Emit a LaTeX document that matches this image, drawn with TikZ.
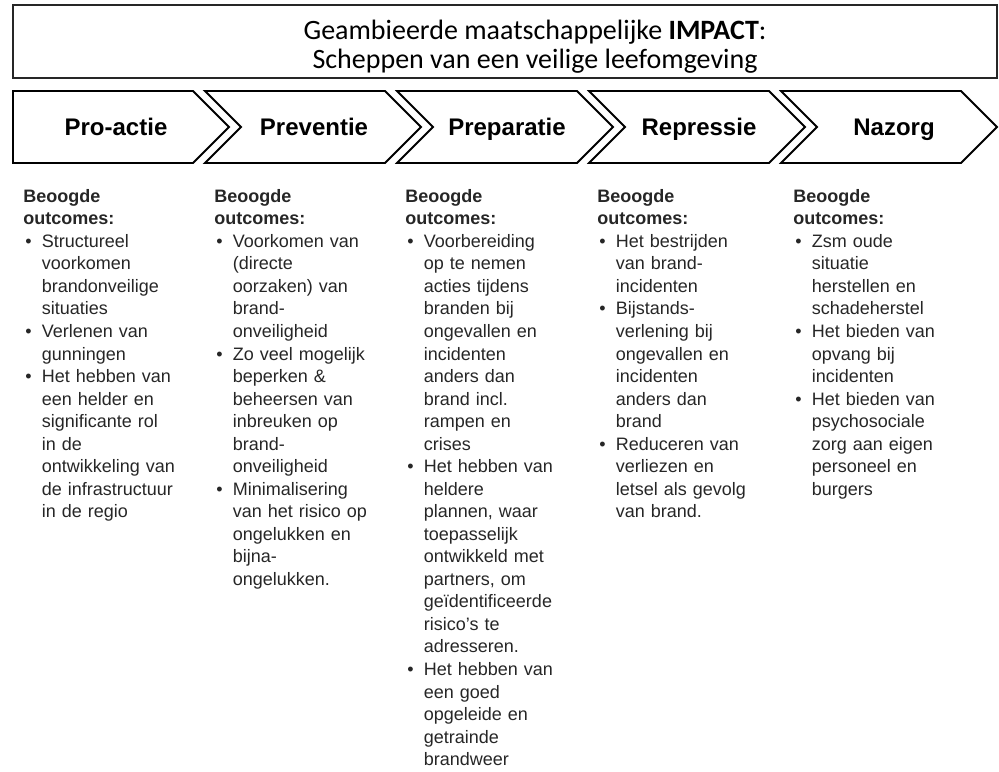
\documentclass[tikz,border=0pt]{standalone}
\usepackage{fontspec}
\setmainfont{Liberation Sans}
\newfontfamily\calibri{Carlito}
\usetikzlibrary{positioning,calc}
\setlength{\parindent}{0pt}
\setlength{\parskip}{0pt}

% one bullet of an outcomes list, later lines hang under the text
\newcommand{\bpt}{\par\hangindent=14pt\relax\hangafter=1\relax\noindent\makebox[14pt][l]{\hspace{1.5pt}\textbullet}}
\newcommand{\lbr}{\newline}

\begin{document}
\begin{tikzpicture}[
    x=0.75pt, y=-0.75pt,
    impactbox/.style={draw=black!85, line width=1.4pt},
    impacttext/.style={align=center, font=\calibri\fontsize{21}{21.5}\selectfont},
    chev/.style={draw=black, line width=1.4pt, line join=miter},
    phase/.style={anchor=base, font=\bfseries\fontsize{18}{20}\selectfont},
    outcomes/.style={anchor=north west, inner sep=0pt, text width=150pt,
        text=black!85, font=\fontsize{13.5}{16.9}\selectfont},
]
\useasboundingbox (0,0) rectangle (999,771);

% impact
\draw[impactbox] (13,5) rectangle (997,78);
\node[impacttext] (impact) at (535,47) {Geambieerde maatschappelijke \textbf{IMPACT}:\\Scheppen van een veilige leefomgeving};

% chevrons
\draw[chev] (13,91) -- (193,91) -- (229,127) -- (193,163) -- (13,163) -- cycle;
\draw[chev] (205,91) -- (385,91) -- (421,127) -- (385,163) -- (205,163) -- (241,127) -- cycle;
\draw[chev] (397,91) -- (577,91) -- (613,127) -- (577,163) -- (397,163) -- (433,127) -- cycle;
\draw[chev] (589,91) -- (769,91) -- (805,127) -- (769,163) -- (589,163) -- (625,127) -- cycle;
\draw[chev] (781,91) -- (961,91) -- (997,127) -- (961,163) -- (781,163) -- (817,127) -- cycle;

\node[phase] (proactie) at (116,135) {Pro-actie};
\node[phase] (preventie) at (314,135) {Preventie};
\node[phase] (preparatie) at (507,135) {Preparatie};
\node[phase] (repressie) at (699,135) {Repressie};
\node[phase] (nazorg) at (894,135) {Nazorg};

% outcomes per phase
\node[outcomes] (oproactie) at (23,189) {\textbf{Beoogde}\lbr\textbf{outcomes:}
  \bpt Structureel\lbr voorkomen\lbr brandonveilige\lbr situaties
  \bpt Verlenen van\lbr gunningen
  \bpt Het hebben van\lbr een helder en\lbr significante rol\lbr in de\lbr ontwikkeling van\lbr de infrastructuur\lbr in de regio\par};

\node[outcomes] (opreventie) at (214,189) {\textbf{Beoogde}\lbr\textbf{outcomes:}
  \bpt Voorkomen van\lbr (directe\lbr oorzaken) van\lbr brand-\lbr onveiligheid
  \bpt Zo veel mogelijk\lbr beperken \&\lbr beheersen van\lbr inbreuken op\lbr brand-\lbr onveiligheid
  \bpt Minimalisering\lbr van het risico op\lbr ongelukken en\lbr bijna-\lbr ongelukken.\par};

\node[outcomes] (opreparatie) at (405,189) {\textbf{Beoogde}\lbr\textbf{outcomes:}
  \bpt Voorbereiding\lbr op te nemen\lbr acties tijdens\lbr branden bij\lbr ongevallen en\lbr incidenten\lbr anders dan\lbr brand incl.\lbr rampen en\lbr crises
  \bpt Het hebben van\lbr heldere\lbr plannen, waar\lbr toepasselijk\lbr ontwikkeld met\lbr partners, om\lbr geïdentificeerde\lbr risico's te\lbr adresseren.
  \bpt Het hebben van\lbr een goed\lbr opgeleide en\lbr getrainde\lbr brandweer\par};

\node[outcomes] (orepressie) at (597,189) {\textbf{Beoogde}\lbr\textbf{outcomes:}
  \bpt Het bestrijden\lbr van brand-\lbr incidenten
  \bpt Bijstands-\lbr verlening bij\lbr ongevallen en\lbr incidenten\lbr anders dan\lbr brand
  \bpt Reduceren van\lbr verliezen en\lbr letsel als gevolg\lbr van brand.\par};

\node[outcomes] (onazorg) at (793,189) {\textbf{Beoogde}\lbr\textbf{outcomes:}
  \bpt Zsm oude\lbr situatie\lbr herstellen en\lbr schadeherstel
  \bpt Het bieden van\lbr opvang bij\lbr incidenten
  \bpt Het bieden van\lbr psychosociale\lbr zorg aan eigen\lbr personeel en\lbr burgers\par};

\end{tikzpicture}
\end{document}
